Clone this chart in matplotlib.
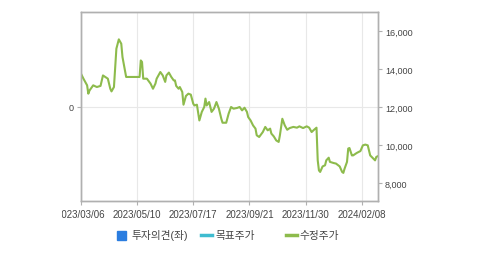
import matplotlib
matplotlib.use("Agg")
import matplotlib.pyplot as plt
from matplotlib.patches import Rectangle
from matplotlib.lines import Line2D
from matplotlib.transforms import Bbox

plt.rcParams['font.family'] = ['Liberation Sans', 'Noto Sans CJK KR']

# trading-day index and adjusted price
day_idx = [0, 2, 5, 6, 7, 10, 13, 16, 18, 22, 24, 25, 27, 28, 29, 31, 33, 34, 37, 48,
           49, 50, 51, 54, 57, 59, 61, 62, 65, 66, 67, 69, 70, 72, 74, 76, 77, 78, 80, 81,
           83, 84, 86, 88, 90, 92, 93, 95, 97, 99, 101, 102, 103, 105, 107, 109, 111, 113, 115, 116,
           119, 121, 123, 125, 128, 130, 132, 134, 136, 137, 139, 141, 143, 144, 146, 148, 149, 151, 153, 155,
           156, 158, 160, 162, 163, 164, 165, 167, 169, 171, 174, 177, 179, 182, 185, 187, 189, 191, 193, 194,
           195, 196, 198, 200, 201, 203, 204, 207, 209, 212, 214, 215, 216, 218, 219, 220, 222, 223, 225, 226,
           229, 231, 233, 235, 237, 239, 241, 242, 243]
price = [13750, 13490, 13140, 12700, 12870, 13140, 13050, 13110, 13660, 13490, 12960, 12820, 13050, 14020, 15070, 15560, 15330, 14630, 13580, 13580,
         14450, 14370, 13490, 13490, 13230, 12960, 13230, 13490, 13840, 13750, 13660, 13320, 13660, 13810, 13580, 13400, 13400, 13110, 12960, 13050,
         12790, 12120, 12580, 12700, 12650, 12170, 12080, 12120, 11290, 11740, 12000, 12440, 12080, 12260, 11740, 11910, 12260, 11910, 11380, 11170,
         11170, 11650, 12000, 11910, 11950, 12000, 11820, 11960, 11740, 11470, 11290, 11030, 10860, 10510, 10420, 10600, 10680, 10950, 10770, 10860,
         10600, 10450, 10240, 10160, 10510, 10950, 11380, 11030, 10800, 10890, 10950, 10910, 10980, 10890, 10980, 10910, 10680, 10800, 10910, 9190,
         8660, 8580, 8870, 8930, 9190, 9330, 9110, 9050, 9020, 8870, 8580, 8530, 8750, 9110, 9810, 9840, 9450, 9450, 9540, 9580,
         9680, 9980, 10020, 9980, 9450, 9320, 9190, 9370, 9400]

tick_idx = [0, 46, 92, 138, 184, 230]
tick_labels = ['2023/03/06', '2023/05/10', '2023/07/17', '2023/09/21', '2023/11/30', '2024/02/08']
price_ticks = [8000, 10000, 12000, 14000, 16000]

legend_labels = ['투자의견(좌)', '목표주가', '수정주가']
legend_colors = ['#2b7de0', '#3fbcd0', '#8dbb4c']

W, H = 479, 255
fig = plt.figure(figsize=(W / 100, H / 100), dpi=100)
ax = fig.add_axes([81 / W, 1 - 202 / H, 297 / W, 189 / H])
ax2 = ax.twinx()

spine_c = '#b0b0b0'
txt_c = '#444444'
for a in (ax, ax2):
    for s in a.spines.values():
        s.set_color(spine_c)
        s.set_linewidth(1.0)

ax.set_xlim(0, 243.4)
ax.set_ylim(-1, 1)
ax.set_yticks([0])
ax.set_yticklabels(['0'])
ax.set_xticks(tick_idx)
ax.set_xticklabels(tick_labels)
ax.grid(True, color='#e8e8e8', linewidth=0.8)
ax.set_axisbelow(True)
ax.tick_params(axis='y', length=3, width=0.8, color=spine_c, labelsize=6.5, labelcolor=txt_c, pad=2)
ax.tick_params(axis='x', length=3, width=0.8, color=spine_c, labelsize=7, labelcolor=txt_c, pad=3)

ax2.plot(day_idx, price, color=legend_colors[2], linewidth=1.5, solid_joinstyle='round')
ax2.set_ylim(7050, 17000)
ax2.set_yticks(price_ticks)
ax2.set_yticklabels([f'{v:,}' for v in price_ticks])
ax2.tick_params(axis='y', length=3, width=0.8, color=spine_c, labelsize=6.5, labelcolor=txt_c, pad=2)

# first date label is cut off at the left in the original
fig.canvas.draw()
clip = Bbox.from_extents(62, 0, W, H)
first = ax.get_xticklabels()[0]
first.set_clip_on(True)
first.set_clip_box(clip)

# legend with fixed-width columns
for i, (lab, col) in enumerate(zip(legend_labels, legend_colors)):
    x0 = 116.7 + i * 84.5
    yc = H - 236
    if i == 0:
        fig.patches.append(Rectangle((x0 / W, (yc - 4.5) / H), 9 / W, 9 / H,
                                     transform=fig.transFigure, color=col))
        tx = x0 + 15
    else:
        fig.lines.append(Line2D([x0 / W, (x0 + 11) / W], [yc / H, yc / H],
                                transform=fig.transFigure, color=col, linewidth=2.5))
        tx = x0 + 14
    fig.text(tx / W, yc / H, lab, fontsize=7.7, color=txt_c, va='center', ha='left')

fig.savefig('out.png', dpi=100)
